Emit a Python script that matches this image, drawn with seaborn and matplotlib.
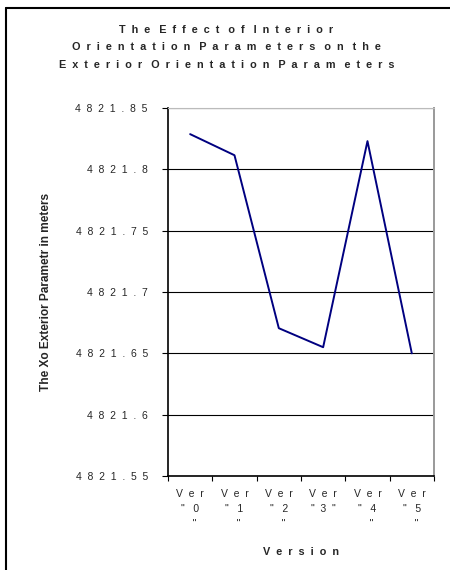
import matplotlib
matplotlib.use("Agg")
import matplotlib.pyplot as plt
import seaborn as sns
import pandas as pd
from matplotlib.lines import Line2D
from matplotlib.ticker import FixedLocator

# data
versions = ['Ver "0"', 'Ver "1"', 'Ver "2"', 'Ver "3"', 'Ver "4"', 'Ver "5"']
xo_values = [4821.8287, 4821.8115, 4821.6705, 4821.655, 4821.823, 4821.650]
tick_labels = ['V  e  r\n"   0\n   "', 'V  e  r\n"   1\n   "', 'V  e  r\n"   2\n   "',
               'V  e  r\n"  3  "', 'V  e  r\n"   4\n   "', 'V  e  r\n"   5\n   "']
y_ticks = [4821.55, 4821.60, 4821.65, 4821.70, 4821.75, 4821.80, 4821.85]

df = pd.DataFrame({"Version": versions, "Xo": xo_values})


def spaced(s):
    # the old chart draws its text letter-spaced
    return "  ".join(s)


sns.set_theme(style="white")
plt.rcParams['font.family'] = ['Liberation Sans', 'DejaVu Sans']

fig = plt.figure(figsize=(4.5, 5.7), dpi=100)
ax = fig.add_axes([0.3733, 0.1649, 0.5911, 0.6456])

sns.lineplot(data=df, x="Version", y="Xo", color="#000080", linewidth=1.4, ax=ax)

ax.set_xlim(-0.5, 5.5)
ax.set_ylim(4821.55, 4821.85)
ax.set_yticks(y_ticks)
ax.set_yticklabels([spaced(f"{v:.2f}".rstrip("0").rstrip(".")) for v in y_ticks], fontsize=7.5)
ax.yaxis.grid(True, color="black", linewidth=0.8)
ax.set_axisbelow(True)

ax.set_xticks(range(len(versions)))
ax.set_xticklabels(tick_labels, fontsize=7.5, linespacing=1.65, va="top")
ax.tick_params(axis="x", which="major", length=0, pad=9)
ax.xaxis.set_minor_locator(FixedLocator([i - 0.5 for i in range(len(versions) + 1)]))
ax.tick_params(axis="x", which="minor", length=3.5, width=0.8, color="black", direction="out", bottom=True)
ax.tick_params(axis="y", length=4.5, width=0.8, color="black", direction="out", left=True, pad=10)

for side in ["left", "bottom"]:
    ax.spines[side].set_color("black")
    ax.spines[side].set_linewidth(1.2)
ax.spines["right"].set_color("#999999")
ax.spines["right"].set_linewidth(1.4)
ax.spines["top"].set_color("#bbbbbb")
ax.spines["top"].set_linewidth(0.8)

ax.set_ylabel("The Xo Exterior Parametr in meters", fontsize=8.6, fontweight="bold", labelpad=17)
ax.set_xlabel(spaced("Version"), fontsize=7.8, fontweight="bold", labelpad=13)

title = ("T  h  e   E  f  f  e  c  t   o  f   I  n  t  e  r  i  o  r\n"
         "O  r  i  e  n  t  a  t  i  o  n   P  a  r  a  m   e  t  e  r  s   o  n   t  h  e\n"
         "E  x  t  e  r  i  o  r   O  r  i  e  n  t  a  t  i  o  n   P  a  r  a  m   e  t  e  r  s")
fig.text(0.503, 0.957, title, ha="center", va="top", fontsize=7.8,
         fontweight="bold", linespacing=1.95)

# chart frame (left and top edges visible in the crop)
fig.add_artist(Line2D([0.014, 0.014], [0, 0.986], transform=fig.transFigure, color="black", linewidth=1.5))
fig.add_artist(Line2D([0.014, 1.0], [0.986, 0.986], transform=fig.transFigure, color="black", linewidth=1.5))

fig.savefig("out.png", dpi=100)
